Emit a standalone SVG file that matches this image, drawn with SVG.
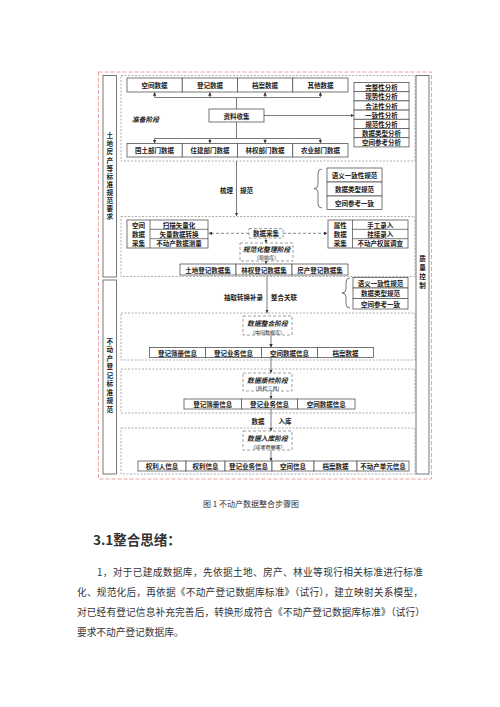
<svg xmlns="http://www.w3.org/2000/svg" width="500" height="707" viewBox="0 0 500 707">
<defs>
<style>
.bx{fill:#fff;stroke:#555;stroke-width:0.8}
.t{font-family:"Noto Sans CJK SC","Liberation Sans",sans-serif;font-size:6.5px;font-weight:bold;fill:#222;text-anchor:middle;dominant-baseline:central}
.v{writing-mode:vertical-rl;text-orientation:upright;font-size:6.6px}
.it{font-style:italic;font-size:6.8px}
.sub{font-size:5px;font-weight:normal}
.sec{fill:none;stroke:#9a9a9a;stroke-width:0.8;stroke-dasharray:2,1.5}
.stg{fill:#fff;stroke:#777;stroke-width:0.7;stroke-dasharray:3,2}
.red{fill:none;stroke:#e9a3a3;stroke-width:1;stroke-dasharray:4,2}
.ln{fill:none;stroke:#444;stroke-width:0.7}
.dl{fill:none;stroke:#555;stroke-width:0.7;stroke-dasharray:3,2}
.doc{font-family:"Noto Sans CJK SC","Liberation Serif",serif;fill:#333}
</style>
<marker id="ah" viewBox="0 0 6 6" refX="6" refY="3" markerWidth="3.5" markerHeight="3.5" markerUnits="userSpaceOnUse" orient="auto"><path d="M0,0L6,3L0,6z" fill="#333"/></marker>
</defs>
<rect width="500" height="707" fill="#fff"/>
<rect class="red" x="98.5" y="72" width="333" height="407"/>

<g id="left-col-1">
<rect class="bx" x="103" y="75.5" width="13.5" height="201.5"/>
<text class="t v" x="109.75" y="177" letter-spacing="1.5">土地房产等标准规范要求</text>
</g>
<g id="left-col-2">
<rect class="bx" x="103" y="280" width="13.5" height="194"/>
<text class="t v" x="109.75" y="376" letter-spacing="1.9">不动产登记标准规范</text>
</g>
<g id="right-col">
<rect class="bx" x="416" y="75.5" width="13" height="398.5"/>
<text class="t v" x="422.5" y="273.5" letter-spacing="2.5">质量控制</text>
</g>

<g id="sections">
<rect class="sec" x="121" y="75.5" width="294" height="85.5"/>
<rect class="sec" x="121" y="216.5" width="294" height="60"/>
<rect class="sec" x="121" y="313" width="294" height="47"/>
<rect class="sec" x="121" y="369" width="294" height="44"/>
<rect class="sec" x="121" y="428" width="294" height="46"/>
</g>

<g id="connectors">
<path class="ln" d="M236.5,109V97.5M154.6,97.5H320.4"/>
<path class="ln" marker-end="url(#ah)" d="M154.6,97.5V92.3"/>
<path class="ln" marker-end="url(#ah)" d="M209.9,97.5V92.3"/>
<path class="ln" marker-end="url(#ah)" d="M265.1,97.5V92.3"/>
<path class="ln" marker-end="url(#ah)" d="M320.4,97.5V92.3"/>
<path class="ln" d="M236.5,122V138.5M154.6,138.5H320.4"/>
<path class="ln" marker-end="url(#ah)" d="M154.6,138.5V143.3"/>
<path class="ln" marker-end="url(#ah)" d="M209.9,138.5V143.3"/>
<path class="ln" marker-end="url(#ah)" d="M265.1,138.5V143.3"/>
<path class="ln" marker-end="url(#ah)" d="M320.4,138.5V143.3"/>
<path class="ln" marker-end="url(#ah)" d="M264,115.5H354"/>
<path class="ln" marker-end="url(#ah)" d="M236.5,161V216"/>
<path class="ln" d="M322,169Q318,169 318,173V184.5Q318,188.5 314,188.5Q318,188.5 318,192.5V204Q318,208 322,208"/>
<path class="dl" marker-end="url(#ah)" d="M249,233.3H208.5"/>
<path class="dl" marker-end="url(#ah)" d="M283,233.3H327.5"/>
<path class="ln" marker-end="url(#ah)" d="M266,238V243"/>
<path class="ln" marker-end="url(#ah)" d="M266,261V264"/>
<path class="ln" marker-end="url(#ah)" d="M267,276.5V313"/>
<path class="ln" d="M350,278Q346,278 346,282V289Q346,293 342,293Q346,293 346,297V304Q346,308 350,308"/>
<path class="ln" marker-end="url(#ah)" d="M271,335V347.5"/>
<path class="ln" marker-end="url(#ah)" d="M271,357.5V373"/>
<path class="ln" marker-end="url(#ah)" d="M271,391V399"/>
<path class="ln" marker-end="url(#ah)" d="M271,409V431"/>
<path class="ln" marker-end="url(#ah)" d="M271,450V461"/>
</g>

<g id="top-sources">
<rect class="bx" x="127" y="78" width="55.25" height="14"/><text class="t" x="154.6" y="85">空间数据</text>
<rect class="bx" x="182.25" y="78" width="55.25" height="14"/><text class="t" x="209.9" y="85">登记数据</text>
<rect class="bx" x="237.5" y="78" width="55.25" height="14"/><text class="t" x="265.1" y="85">档案数据</text>
<rect class="bx" x="292.75" y="78" width="55.25" height="14"/><text class="t" x="320.4" y="85">其他数据</text>
</g>
<g id="collect">
<rect class="bx" x="209" y="109" width="55" height="13"/><text class="t" x="236.5" y="115.5">资料收集</text>
<text class="t it" x="145.5" y="118.5">准备阶段</text>
</g>
<g id="dept-sources">
<rect class="bx" x="127" y="143.5" width="55.25" height="13.5"/><text class="t" x="154.6" y="150.2">国土部门数据</text>
<rect class="bx" x="182.25" y="143.5" width="55.25" height="13.5"/><text class="t" x="209.9" y="150.2">住建部门数据</text>
<rect class="bx" x="237.5" y="143.5" width="55.25" height="13.5"/><text class="t" x="265.1" y="150.2">林权部门数据</text>
<rect class="bx" x="292.75" y="143.5" width="55.25" height="13.5"/><text class="t" x="320.4" y="150.2">农业部门数据</text>
</g>
<g id="analysis">
<rect class="bx" x="354" y="82.5" width="55" height="9.2"/><text class="t" x="381.5" y="87.1">完整性分析</text>
<rect class="bx" x="354" y="91.7" width="55" height="9.2"/><text class="t" x="381.5" y="96.3">现势性分析</text>
<rect class="bx" x="354" y="100.9" width="55" height="9.2"/><text class="t" x="381.5" y="105.5">合法性分析</text>
<rect class="bx" x="354" y="110.1" width="55" height="9.2"/><text class="t" x="381.5" y="114.7">一致性分析</text>
<rect class="bx" x="354" y="119.3" width="55" height="9.2"/><text class="t" x="381.5" y="123.9">规范性分析</text>
<rect class="bx" x="354" y="128.5" width="55" height="9.2"/><text class="t" x="381.5" y="133.1">数据类型分析</text>
<rect class="bx" x="354" y="137.7" width="55" height="9.2"/><text class="t" x="381.5" y="142.3">空间参考分析</text>
</g>
<g id="label-1">
<text class="t" x="233" y="190" style="text-anchor:end">梳理</text>
<text class="t" x="240" y="190" style="text-anchor:start">规范</text>
</g>
<g id="norms-1">
<rect class="bx" x="327" y="168" width="55" height="14"/><text class="t" x="354.5" y="175">语义一致性规范</text>
<rect class="bx" x="327" y="182" width="55" height="14"/><text class="t" x="354.5" y="189">数据类型规范</text>
<rect class="bx" x="327" y="196" width="55" height="13.5"/><text class="t" x="354.5" y="202.7">空间参考一致</text>
</g>
<g id="spatial-collect">
<rect class="bx" x="127" y="220" width="81" height="28"/>
<path class="ln" d="M150,220V248M150,229.3H208M150,238.7H208"/>
<text class="t" x="138.5" y="224.6">空间</text><text class="t" x="138.5" y="234">数据</text><text class="t" x="138.5" y="243.4">采集</text>
<text class="t" x="179" y="224.6">扫描矢量化</text><text class="t" x="179" y="234">矢量数据转换</text><text class="t" x="179" y="243.4">不动产数据测量</text>
</g>
<g id="attr-collect">
<rect class="bx" x="328" y="220" width="80" height="28"/>
<path class="ln" d="M352.5,220V248M352.5,229.3H408M352.5,238.7H408"/>
<text class="t" x="340.25" y="224.6">属性</text><text class="t" x="340.25" y="234">数据</text><text class="t" x="340.25" y="243.4">采集</text>
<text class="t" x="380.25" y="224.6">手工录入</text><text class="t" x="380.25" y="234">挂接录入</text><text class="t" x="380.25" y="243.4">不动产权属调查</text>
</g>
<g id="data-collect">
<rect class="stg" x="249" y="228.5" width="34" height="9.5"/><text class="t" x="266" y="233.3">数据采集</text>
</g>
<g id="stage-norm">
<rect class="stg" x="240" y="243" width="53" height="18"/>
<text class="t it" x="266.5" y="248.5">规范化整理阶段</text>
<text class="t sub" x="266.5" y="256.5">（原始库）</text>
</g>
<g id="datasets">
<rect class="bx" x="180" y="264" width="56" height="11"/><text class="t" x="208" y="269.5">土地登记数据集</text>
<rect class="bx" x="236" y="264" width="56" height="11"/><text class="t" x="264" y="269.5">林权登记数据集</text>
<rect class="bx" x="292" y="264" width="56" height="11"/><text class="t" x="320" y="269.5">房产登记数据集</text>
</g>
<g id="label-2">
<text class="t" x="263" y="296.5" style="text-anchor:end">抽取转换补录</text>
<text class="t" x="271" y="296.5" style="text-anchor:start">整合关联</text>
</g>
<g id="norms-2">
<rect class="bx" x="353" y="277.5" width="55" height="10.5"/><text class="t" x="380.5" y="282.8">语义一致性规范</text>
<rect class="bx" x="353" y="288" width="55" height="10.5"/><text class="t" x="380.5" y="293.3">数据类型规范</text>
<rect class="bx" x="353" y="298.5" width="55" height="10.5"/><text class="t" x="380.5" y="303.8">空间参考一致</text>
</g>
<g id="stage-integrate">
<rect class="stg" x="243" y="316" width="49" height="19"/>
<text class="t it" x="267.5" y="322.5">数据整合阶段</text>
<text class="t sub" x="267.5" y="331">（中间数据库）</text>
</g>
<g id="row-integrate">
<rect class="bx" x="149.5" y="347.5" width="56" height="10"/><text class="t" x="177.5" y="352.5">登记簿册信息</text>
<rect class="bx" x="205.5" y="347.5" width="56" height="10"/><text class="t" x="233.5" y="352.5">登记业务信息</text>
<rect class="bx" x="261.5" y="347.5" width="56" height="10"/><text class="t" x="289.5" y="352.5">空间数据信息</text>
<rect class="bx" x="317.5" y="347.5" width="56" height="10"/><text class="t" x="345.5" y="352.5">档案数据</text>
</g>
<g id="stage-check">
<rect class="stg" x="243" y="373" width="49" height="18"/>
<text class="t it" x="267.5" y="379.5">数据质检阶段</text>
<text class="t sub" x="267.5" y="387.5">（质检工具）</text>
</g>
<g id="row-check">
<rect class="bx" x="184" y="399" width="57.5" height="10"/><text class="t" x="212.75" y="404">登记簿册信息</text>
<rect class="bx" x="241.5" y="399" width="56" height="10"/><text class="t" x="269.5" y="404">登记业务信息</text>
<rect class="bx" x="297.5" y="399" width="57.5" height="10"/><text class="t" x="326.25" y="404">空间数据信息</text>
</g>
<g id="label-3">
<text class="t" x="258" y="420.5">数据</text>
<text class="t" x="285" y="420.5">入库</text>
</g>
<g id="stage-store">
<rect class="stg" x="243" y="431" width="49" height="19"/>
<text class="t it" x="267.5" y="437.5">数据入库阶段</text>
<text class="t sub it" x="267.5" y="446">（成果数据库）</text>
</g>
<g id="row-store">
<rect class="bx" x="138" y="461" width="48" height="10"/><text class="t" x="162" y="466">权利人信息</text>
<rect class="bx" x="186" y="461" width="39" height="10"/><text class="t" x="205.5" y="466">权利信息</text>
<rect class="bx" x="225" y="461" width="47" height="10"/><text class="t" x="248.5" y="466">登记业务信息</text>
<rect class="bx" x="272" y="461" width="42" height="10"/><text class="t" x="293" y="466">空间信息</text>
<rect class="bx" x="314" y="461" width="43" height="10"/><text class="t" x="335.5" y="466">档案数据</text>
<rect class="bx" x="357" y="461" width="52" height="10"/><text class="t" x="383" y="466">不动产单元信息</text>
</g>

<g id="document">
<text class="doc" x="251" y="507" font-size="8" text-anchor="middle" fill="#444">图 1 不动产数据整合步骤图</text>
<text class="doc" x="93" y="545" font-size="13.5" font-weight="bold" fill="#222">3.1整合思绪：</text>
<text class="doc" x="97" y="576" font-size="9.7" textLength="326" lengthAdjust="spacing">1，对于已建成数据库，先依据土地、房产、林业等现行相关标准进行标准</text>
<text class="doc" x="77" y="596" font-size="9.7" textLength="346" lengthAdjust="spacing">化、规范化后，再依据《不动产登记数据库标准》（试行），建立映射关系模型，</text>
<text class="doc" x="77" y="616" font-size="9.7" textLength="348" lengthAdjust="spacing">对已经有登记信息补充完善后，转换形成符合《不动产登记数据库标准》（试行）</text>
<text class="doc" x="77" y="636" font-size="9.7">要求不动产登记数据库。</text>
</g>
</svg>
